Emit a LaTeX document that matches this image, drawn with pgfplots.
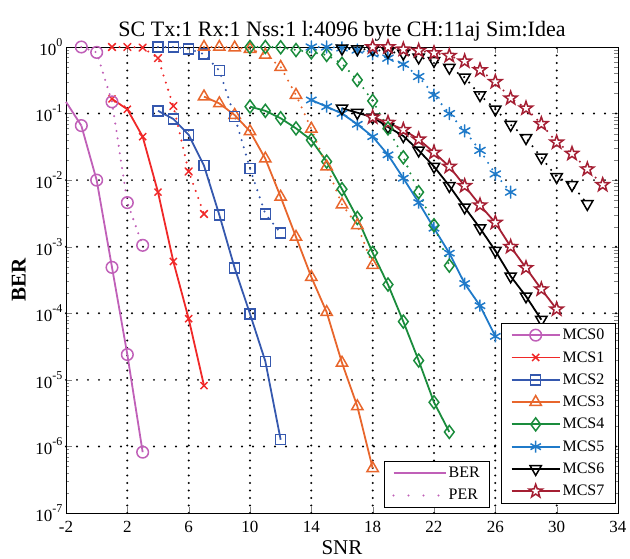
\documentclass[border=0pt]{standalone}
\usepackage{fontspec}
\setmainfont{Liberation Serif}
\usepackage{pgfplots}
\pgfplotsset{compat=1.18}
\definecolor{mcsA}{HTML}{C060B8}
\definecolor{mcsB}{HTML}{F02828}
\definecolor{mcsC}{HTML}{3558AE}
\definecolor{mcsD}{HTML}{E8662C}
\definecolor{mcsE}{HTML}{1A8C3C}
\definecolor{mcsF}{HTML}{1F7AC9}
\definecolor{mcsG}{HTML}{000000}
\definecolor{mcsH}{HTML}{A51F33}
\definecolor{gridc}{HTML}{000000}

% five-pointed star outline, like matlab's pentagram
\pgfdeclareplotmark{pentagram}{%
  \pgfpathmoveto{\pgfpointpolar{90}{\pgfplotmarksize}}%
  \pgfpathlineto{\pgfpointpolar{126}{0.4\pgfplotmarksize}}%
  \pgfpathlineto{\pgfpointpolar{162}{\pgfplotmarksize}}%
  \pgfpathlineto{\pgfpointpolar{198}{0.4\pgfplotmarksize}}%
  \pgfpathlineto{\pgfpointpolar{234}{\pgfplotmarksize}}%
  \pgfpathlineto{\pgfpointpolar{270}{0.4\pgfplotmarksize}}%
  \pgfpathlineto{\pgfpointpolar{306}{\pgfplotmarksize}}%
  \pgfpathlineto{\pgfpointpolar{342}{0.4\pgfplotmarksize}}%
  \pgfpathlineto{\pgfpointpolar{18}{\pgfplotmarksize}}%
  \pgfpathlineto{\pgfpointpolar{54}{0.4\pgfplotmarksize}}%
  \pgfpathclose
  \pgfusepathqfillstroke}

\newcommand{\ex}[1]{10\raisebox{1.15ex}{\fontsize{12}{12}\selectfont#1}}

\pgfplotsset{
 ber/.style={line width=1.8pt},
 per/.style={line width=2.3pt, line cap=round, dash pattern=on 0pt off 7.5pt, forget plot},
 gx/.style={gridc, line width=2.2pt, line cap=round, dash pattern=on 0pt off 7.5pt, forget plot, mark=none},
 gy/.style={gridc, line width=2.2pt, line cap=round, dash pattern=on 0pt off 11pt, forget plot, mark=none},
}

\begin{document}
\begin{tikzpicture}
\begin{axis}[at={(0pt,0pt)}, anchor=south west, width=552pt, height=466pt, scale only axis,
 ymode=log, xmin=-2, xmax=34, ymin=1e-7, ymax=1,
 xtick={-2,2,...,34}, xticklabels={-2,2,6,10,14,18,22,26,30,34},
 ytick={1e-7,1e-6,1e-5,1e-4,1e-3,1e-2,1e-1,1},
 yticklabels={\ex{-7},\ex{-6},\ex{-5},\ex{-4},\ex{-3},\ex{-2},\ex{-1},\ex{0}},
 tick label style={font=\fontsize{17}{17}\selectfont},
 xticklabel style={yshift=-5pt},
 tick align=inside, tick pos=both, major tick length=6pt, minor tick length=3.5pt,
 axis line style={line width=0.9pt},
 clip=false,
 title={SC Tx:1 Rx:1 Nss:1 l:4096 byte CH:11aj Sim:Idea},
 title style={font=\fontsize{22}{22}\selectfont, yshift=-4pt},
 xlabel={SNR}, xlabel style={font=\fontsize{21}{21}\selectfont, yshift=-1pt},
 ylabel={\textbf{BER}}, ylabel style={font=\fontsize{21}{21}\selectfont, yshift=3pt},
 legend style={at={(rel axis cs:0.996,0.02)}, anchor=south east, font=\fontsize{16}{16}\selectfont,
  draw=black, line width=0.8pt, row sep=6.2pt, inner xsep=9pt, inner ysep=4pt},
 legend cell align=left,
 legend image code/.code={\draw[mark repeat=2, mark phase=2] plot coordinates {(0pt,0pt) (24pt,0pt) (48pt,0pt)};},
]
% dotted grid at the major ticks
\addplot[gx] coordinates {(2,1e-7)(2,1)};
\addplot[gx] coordinates {(6,1e-7)(6,1)};
\addplot[gx] coordinates {(10,1e-7)(10,1)};
\addplot[gx] coordinates {(14,1e-7)(14,1)};
\addplot[gx] coordinates {(18,1e-7)(18,1)};
\addplot[gx] coordinates {(22,1e-7)(22,1)};
\addplot[gx] coordinates {(26,1e-7)(26,1)};
\addplot[gx] coordinates {(30,1e-7)(30,1)};
\addplot[gy] coordinates {(-2,1e-6)(34,1e-6)};
\addplot[gy] coordinates {(-2,1e-5)(34,1e-5)};
\addplot[gy] coordinates {(-2,1e-4)(34,1e-4)};
\addplot[gy] coordinates {(-2,1e-3)(34,1e-3)};
\addplot[gy] coordinates {(-2,1e-2)(34,1e-2)};
\addplot[gy] coordinates {(-2,1e-1)(34,1e-1)};
% BER, solid
\addplot[mcsA, ber, mark=o, mark size=5.8pt, mark options={solid, line width=1.5pt}] coordinates {(-1,0.066)(0,0.01)(1,4.9e-4)(2,2.4e-5)(3,8.2e-7)};
\addlegendentry{MCS0}
\addplot[mcsB, ber, mark=x, mark size=5pt, mark options={solid, line width=1.5pt}] coordinates {(1,0.166)(2,0.116)(3,0.045)(4,6.6e-3)(5,6e-4)(6,8.3e-5)(7,8.2e-6)};
\addlegendentry{MCS1}
\addplot[mcsC, ber, mark=square, mark size=5pt, mark options={solid, line width=1.5pt}] coordinates {(4,0.11)(5,0.083)(6,0.048)(7,0.0165)(8,3.0e-3)(9,4.8e-4)(10,9.8e-5)(11,1.9e-5)(12,1.26e-6)};
\addlegendentry{MCS2}
\addplot[mcsD, ber, mark=triangle, mark size=6.5pt, mark options={solid, line width=1.5pt}] coordinates {(7,0.18)(8,0.142)(9,0.095)(10,0.054)(11,0.021)(12,5.6e-3)(13,1.4e-3)(14,3.5e-4)(15,1.04e-4)(16,1.8e-5)(17,4e-6)(18,4.7e-7)};
\addlegendentry{MCS3}
\addplot[mcsE, ber, mark=diamond, mark size=6.5pt, mark options={solid, line width=1.5pt}] coordinates {(10,0.127)(11,0.11)(12,0.085)(13,0.06)(14,0.04)(15,0.019)(16,7.3e-3)(17,2.7e-3)(18,8.1e-4)(19,2.7e-4)(20,7.5e-5)(21,1.95e-5)(22,4.6e-6)(23,1.65e-6)};
\addlegendentry{MCS4}
\addplot[mcsF, ber, mark=asterisk, mark size=6pt, mark options={solid, line width=1.5pt}] coordinates {(14,0.16)(15,0.127)(16,0.1)(17,0.069)(18,0.045)(19,0.024)(20,0.0107)(21,4.6e-3)(22,1.9e-3)(23,8e-4)(24,2.8e-4)(25,1.3e-4)(26,4.5e-5)};
\addlegendentry{MCS5}
\addplot[mcsG, ber, mark=triangle, mark size=6.5pt, mark options={solid, line width=1.5pt, rotate=180}] coordinates {(16,0.12)(17,0.103)(18,0.088)(19,0.063)(20,0.046)(21,0.028)(22,0.016)(23,8.2e-3)(24,3.9e-3)(25,1.9e-3)(26,8.7e-4)(27,3.6e-4)(28,1.8e-4)(29,8e-5)};
\addlegendentry{MCS6}
\addplot[mcsH, ber, mark=pentagram, mark size=7pt, mark options={solid, line width=1.5pt, fill=white}] coordinates {(18,0.088)(19,0.073)(20,0.057)(21,0.041)(22,0.026)(23,0.016)(24,8.2e-3)(25,4.2e-3)(26,2.3e-3)(27,1e-3)(28,4.8e-4)(29,2.3e-4)(30,1.15e-4)};
\addlegendentry{MCS7}
% the MCS0 BER line enters at the left edge: no mark there
\addplot[mcsA, ber, forget plot] coordinates {(-2,0.15)(-1,0.066)};
% PER, dotted
\addplot[mcsA, per, mark=o, mark size=5.8pt, mark options={solid, line width=1.5pt}] coordinates {(-1,1.0)(0,0.83)(1,0.15)(2,4.6e-3)(3,1.05e-3)};
\addplot[mcsB, per, mark=x, mark size=5pt, mark options={solid, line width=1.5pt}] coordinates {(1,1)(2,1)(3,0.98)(4,0.68)(5,0.13)(6,0.0135)(7,3.1e-3)};
\addplot[mcsC, per, mark=square, mark size=5pt, mark options={solid, line width=1.5pt}] coordinates {(4,1)(5,1)(6,0.94)(7,0.78)(8,0.44)(9,0.09)(10,0.015)(11,3.1e-3)(12,1.6e-3)};
\addplot[mcsD, per, mark=triangle, mark size=6.5pt, mark options={solid, line width=1.5pt}] coordinates {(7,1)(8,1)(9,0.98)(10,0.93)(11,0.76)(12,0.5)(13,0.19)(14,0.059)(15,0.016)(16,4.3e-3)(17,2.1e-3)(18,5.3e-4)};
\addplot[mcsE, per, mark=diamond, mark size=6.5pt, mark options={solid, line width=1.5pt}] coordinates {(10,1)(11,1)(12,0.99)(13,0.9)(14,0.83)(15,0.76)(16,0.56)(17,0.32)(18,0.155)(19,0.06)(20,0.022)(21,6.6e-3)(22,2.1e-3)(23,5.2e-4)};
\addplot[mcsF, per, mark=asterisk, mark size=6pt, mark options={solid, line width=1.5pt}] coordinates {(14,1)(15,1)(16,0.97)(17,0.9)(18,0.79)(19,0.68)(20,0.55)(21,0.36)(22,0.19)(23,0.1)(24,0.055)(25,0.028)(26,0.0124)(27,6.6e-3)};
\addplot[mcsG, per, mark=triangle, mark size=6.5pt, mark options={solid, line width=1.5pt, rotate=180}] coordinates {(16,0.95)(17,0.93)(18,0.92)(19,0.85)(20,0.8)(21,0.7)(22,0.62)(23,0.49)(24,0.35)(25,0.19)(26,0.116)(27,0.068)(28,0.043)(29,0.022)(30,0.0112)(31,8.5e-3)(32,4.4e-3)};
\addplot[mcsH, per, mark=pentagram, mark size=7pt, mark options={solid, line width=1.5pt, fill=white}] coordinates {(18,1)(19,1)(20,0.92)(21,0.88)(22,0.81)(23,0.74)(24,0.61)(25,0.45)(26,0.3)(27,0.17)(28,0.12)(29,0.07)(30,0.037)(31,0.025)(32,0.0146)(33,8.5e-3)};
\end{axis}
% second legend: line styles
\begin{axis}[at={(0pt,0pt)}, anchor=south west, width=552pt, height=466pt, scale only axis,
 hide axis, xmin=0, xmax=1, ymin=0, ymax=1,
 legend style={at={(rel axis cs:0.576,0.011)}, anchor=south west, font=\fontsize{16}{16}\selectfont,
  draw=black, line width=0.8pt, row sep=6.2pt, inner xsep=8pt, inner ysep=4pt},
 legend cell align=left,
 legend image code/.code={\draw plot coordinates {(0pt,0pt) (52pt,0pt)};},
]
\addlegendimage{mcsA, line width=1.8pt}
\addlegendentry{BER}
\addlegendimage{mcsA, line width=2.3pt, line cap=round, dash pattern=on 0pt off 15pt}
\addlegendentry{PER}
\end{axis}
\pgfresetboundingbox
\useasboundingbox (-66pt,-46pt) rectangle (564pt,513pt);
\end{tikzpicture}
\end{document}
